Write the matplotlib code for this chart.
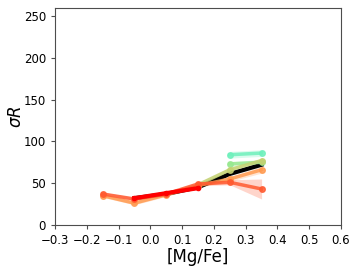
import numpy as np
import matplotlib
matplotlib.use('Agg')
from matplotlib import pyplot as plt

# [Mg/Fe] bin centres
mgfe = [-0.15, -0.05, 0.05, 0.15, 0.25, 0.35]

# sigma_R per bin for each group (None = empty bin)
s_red    = [None, 32, 38, 44, None, None]
s_black  = [None, 32, 37, 45, 61, 72]
s_tomato = [37, 31, 37, 49, 51, 43]
s_orange = [35, 26, 36, 47, 55, 66]
s_ygreen = [None, None, None, 48, 66, 77]
s_lgreen = [None, None, None, None, 73, 75]
s_aqua   = [None, None, None, None, 84, 86]

# uncertainty half-widths
e_tomato = [2, 2, 2, 2, 3, 12]
e_orange = [2, 2, 2, 2, 3, 4]
e_ygreen = [0, 0, 0, 2, 3, 3]
e_lgreen = [0, 0, 0, 0, 3, 3]
e_aqua   = [0, 0, 0, 0, 4, 4]

series = [
    (s_aqua,   e_aqua,   '#6ff0bc'),
    (s_lgreen, e_lgreen, '#98e890'),
    (s_ygreen, e_ygreen, '#c4d172'),
    (s_orange, e_orange, '#ff9a50'),
    (s_tomato, e_tomato, '#ff5a30'),
]

fig = plt.figure(figsize=(3.59, 2.69), dpi=100)
ax = fig.add_axes([0.153, 0.164, 0.797, 0.807])

def clean(y, e=None):
    x = np.array([m for m, v in zip(mgfe, y) if v is not None])
    yy = np.array([v for v in y if v is not None], dtype=float)
    if e is None:
        return x, yy
    ee = np.array([err for err, v in zip(e, y) if v is not None], dtype=float)
    return x, yy, ee

x, y = clean(s_black)
ax.plot(x, y, color='k', lw=3, zorder=2)

for y, e, c in series:
    x, yy, ee = clean(y, e)
    ax.fill_between(x, yy - ee, yy + ee, color=c, alpha=0.25, lw=0, zorder=1)
    ax.plot(x, yy, color=c, lw=2.5, alpha=0.85, marker='o', ms=4, zorder=3)

x, y = clean(s_red)
ax.plot(x, y, color='#ff0000', lw=3, marker='o', ms=3, zorder=4)

ax.set_xlim(-0.3, 0.6)
ax.set_ylim(0, 260)
ax.set_xticks([-0.3, -0.2, -0.1, 0.0, 0.1, 0.2, 0.3, 0.4, 0.5, 0.6])
ax.set_yticks([0, 50, 100, 150, 200, 250])
ax.tick_params(labelsize=8.5, length=3, color='0.3')
for sp in ax.spines.values():
    sp.set_color('0.3')
ax.set_xlabel('[Mg/Fe]', fontsize=12, labelpad=1)
ax.set_ylabel(r'$\sigma R$', fontsize=12, labelpad=-1)

plt.savefig('out.png', dpi=100)
